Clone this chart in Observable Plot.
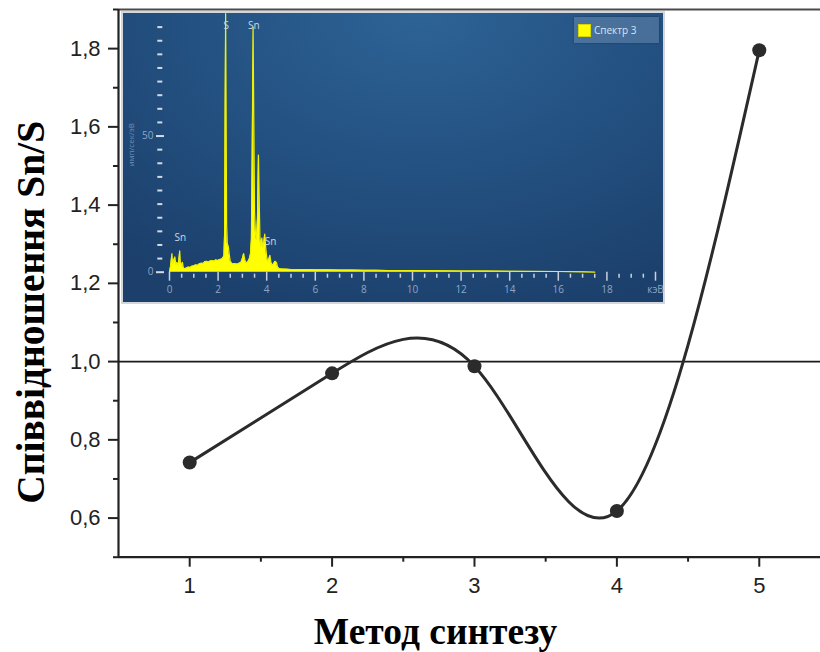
<!DOCTYPE html>
<html>
<head>
<meta charset="utf-8">
<script src="https://cdn.jsdelivr.net/npm/d3@7"></script>
<script src="https://cdn.jsdelivr.net/npm/@observablehq/plot@0.6"></script>
<style>
  html, body { margin: 0; padding: 0; background: #fff; overflow: hidden; }
  #wrap { position: relative; width: 820px; height: 652px; }
  #inset { position: absolute; left: 121px; top: 11px; width: 540px; height: 289px; border: 2px solid #d3d6da; }
  #inset svg { display: block; }
  #legend { position: absolute; left: 451px; top: 4px; width: 85px; height: 26px;
            background: rgba(150, 175, 205, 0.32); box-shadow: 0 0 2px rgba(0, 0, 0, 0.35);
            font: 10px "Open Sans", sans-serif; color: #dde4ee; }
  #legend .sw { position: absolute; left: 4px; top: 7px; width: 11px; height: 11px; background: #ffff00; border: 1px solid #d6d600; }
  #legend .lb { position: absolute; left: 20px; top: 0; line-height: 26px; }
</style>
</head>
<body>
<div id="wrap">
  <div id="main"></div>
  <div id="inset">
    <div id="legend"><div class="sw"></div><div class="lb"></div></div>
  </div>
</div>
<script>
// Sn/S ratio for each synthesis method
const methods = [1, 2, 3, 4, 5];
const ratios = [0.742, 0.970, 0.988, 0.618, 1.796];
const refLevel = 1.0;

const xTicks = [1, 2, 3, 4, 5];
const xMinor = [1.5, 2.5, 3.5, 4.5];
const yTicks = [0.6, 0.8, 1.0, 1.2, 1.4, 1.6, 1.8];
const yMinor = [0.5, 0.7, 0.9, 1.1, 1.3, 1.5, 1.7, 1.9];

const xTitle = "Метод синтезу";
const yTitle = "Співвідношення Sn/S";

// EDS spectrum (inset): energy, keV and intensity, counts/s/eV
const energyKeV = [0.00, 0.05, 0.10, 0.13, 0.18, 0.22, 0.26, 0.30, 0.34, 0.38, 0.42, 0.45, 0.50, 0.53, 0.57,
  0.62, 0.70, 0.78, 0.85, 0.92, 1.00, 1.08, 1.15, 1.22, 1.30, 1.38, 1.45, 1.52, 1.60, 1.68, 1.75, 1.82,
  1.90, 1.98, 2.05, 2.12, 2.18, 2.24, 2.27, 2.29, 2.31, 2.33, 2.35, 2.38, 2.42, 2.46, 2.50, 2.56, 2.62,
  2.70, 2.78, 2.86, 2.94, 3.00, 3.05, 3.10, 3.16, 3.22, 3.28, 3.33, 3.37, 3.40, 3.44, 3.47, 3.50, 3.54,
  3.58, 3.62, 3.66, 3.69, 3.72, 3.76, 3.80, 3.84, 3.88, 3.92, 3.96, 4.00, 4.04, 4.08, 4.13, 4.17, 4.22,
  4.28, 4.34, 4.40, 4.45, 4.52, 4.60, 4.80, 5.0, 5.5, 6.0, 6.5, 7.0, 7.5, 8.0, 8.5, 9.0, 9.5, 10, 11,
  12, 13, 14, 15, 16, 17, 17.5];
const countsPerEv = [0, 2.5, 6.8, 3.0, 4.5, 5.6, 2.8, 3.6, 2.5, 4.0, 7.8, 3.2, 2.6, 3.6, 1.6,
  1.3, 1.5, 1.9, 1.7, 2.2, 2.3, 2.7, 2.5, 3.0, 3.3, 3.2, 3.8, 4.0, 3.7, 4.1, 4.3, 4.0,
  4.5, 4.3, 4.6, 4.8, 5.0, 6.0, 15, 60, 95, 60, 18, 10.5, 9.5, 6.5, 4.0, 3.3, 3.0,
  3.2, 2.9, 3.3, 3.6, 5.0, 6.8, 4.5, 3.4, 3.7, 4.8, 6.5, 12, 40, 90, 55, 22, 14,
  12, 20, 43, 28, 13, 9.5, 12.5, 9, 11, 14, 9, 5.5, 4.0, 4.5, 6.2, 3.8, 2.6,
  3.0, 4.0, 3.6, 1.8, 1.3, 1.2, 1.1, 1.0, 1.0, 0.9, 0.9, 0.8, 0.8, 0.7, 0.7, 0.6, 0.6, 0.55, 0.5,
  0.45, 0.4, 0.35, 0.3, 0.25, 0.15, 0];

const peakNames = ["Sn", "S", "Sn", "Sn"];
const peakKeV = [0.45, 2.33, 3.47, 4.16];
const peakLabelY = [12.6, 90.6, 90.6, 11.0];

const insetXMajor = [0, 2, 4, 6, 8, 10, 12, 14, 16, 18, 20];
const insetXMinor = [0.5, 1, 1.5, 2.5, 3, 3.5, 4.5, 5, 5.5, 6.5, 7, 7.5, 8.5, 9, 9.5, 10.5, 11, 11.5,
  12.5, 13, 13.5, 14.5, 15, 15.5, 16.5, 17, 17.5, 18.5, 19, 19.5];
const insetYMajor = [0, 50];
const insetYMinor = [5, 10, 15, 20, 25, 30, 35, 40, 45, 55, 60, 65, 70, 75, 80, 85, 90];
const insetYLabel = "имп/сек/эВ";
const insetUnit = "кэВ";
const legendLabel = "Спектр 3";

const fmt = d => d.toFixed(1).replace(".", ",");
const rows = methods.map((m, i) => ({method: m, ratio: ratios[i]}));

const main = Plot.plot({
  width: 820,
  height: 652,
  marginLeft: 118,
  marginRight: 0,
  marginTop: 9,
  marginBottom: 95.3,
  x: {domain: [0.5, 5.43]},
  y: {domain: [0.5, 1.9]},
  style: {fontFamily: '"Liberation Sans", Arial, sans-serif', fontSize: "22px", color: "#222", background: "#fff"},
  marks: [
    Plot.axisX({ticks: xTicks, tickSize: 10, tickPadding: 10, strokeWidth: 2, tickFormat: d => String(d), label: null}),
    Plot.axisX({ticks: xMinor, tickSize: 5, strokeWidth: 2, tickFormat: () => "", label: null}),
    Plot.axisY({ticks: yTicks, tickSize: 10, tickPadding: 8, strokeWidth: 2, tickFormat: fmt, label: null}),
    Plot.axisY({ticks: yMinor, tickSize: 5, strokeWidth: 2, tickFormat: () => "", label: null}),
    Plot.ruleY([1.9], {stroke: "#4a4a4a", strokeWidth: 2}),
    Plot.ruleX([0.5], {stroke: "#222", strokeWidth: 2.2}),
    Plot.ruleY([0.5], {stroke: "#222", strokeWidth: 2.2}),
    Plot.ruleY([refLevel], {stroke: "#1a1a1a", strokeWidth: 1.6}),
    Plot.line(rows, {x: "method", y: "ratio", curve: "natural", stroke: "#2b2b2b", strokeWidth: 3}),
    Plot.dot(rows, {x: "method", y: "ratio", r: 7, fill: "#2b2b2b", stroke: "none"}),
    Plot.text([xTitle], {frameAnchor: "bottom", dx: -34, dy: 86.3, lineAnchor: "bottom", textAnchor: "middle",
      fontSize: 37.5, fontWeight: "bold", fontFamily: '"Liberation Serif", "Times New Roman", serif', fill: "#000"}),
    Plot.text([yTitle], {frameAnchor: "left", rotate: -90, dx: -75, dy: 29, lineAnchor: "bottom", textAnchor: "middle",
      fontSize: 39.5, fontWeight: "bold", fontFamily: '"Liberation Serif", "Times New Roman", serif', fill: "#000"})
  ]
});
document.getElementById("main").append(main);

// Inset: EDS spectrum
const spectrum = energyKeV.map((e, i) => ({e, c: countsPerEv[i]}));
const peaks = peakNames.map((t, i) => ({t, x: peakKeV[i], y: peakLabelY[i]}));

const inset = Plot.plot({
  width: 540,
  height: 289,
  marginLeft: 46,
  marginRight: 8,
  marginTop: 0,
  marginBottom: 30.3,
  x: {domain: [0, 20]},
  y: {domain: [0, 95]},
  style: {
    background: "radial-gradient(ellipse 85% 110% at 55% 0%, #2e6396 0%, #235181 50%, #1c3f6b 100%)",
    fontFamily: '"Open Sans", sans-serif', fontSize: "10px", color: "#8ea7c6", overflow: "visible"
  },
  marks: [
    Plot.axisX({ticks: insetXMajor, tickSize: 9, tickPadding: 5, stroke: "#c8d2de", strokeWidth: 1.5,
      tickFormat: d => d === 20 ? insetUnit : String(d), label: null}),
    Plot.axisX({ticks: insetXMinor, tickSize: 4, dy: 2, stroke: "#c8d2de", strokeWidth: 1.5, tickFormat: () => "", label: null}),
    Plot.axisY({ticks: insetYMajor, tickSize: 8, dx: -5, tickPadding: 3, stroke: "#d3dbe5", strokeWidth: 2, label: null}),
    Plot.axisY({ticks: insetYMinor, tickSize: 5, dx: -6.7, stroke: "#d3dbe5", strokeWidth: 2, tickFormat: () => "", label: null}),
    Plot.text([insetYLabel], {frameAnchor: "left", rotate: -90, dx: -36, dy: 2, lineAnchor: "bottom", textAnchor: "middle",
      fontSize: 8, fill: "#6e8fb6"}),
    Plot.areaY(spectrum, {x: "e", y: "c", fill: "#ffff00"}),
    Plot.lineY(spectrum, {x: "e", y: "c", stroke: "#f2f200", strokeWidth: 1.2}),
    Plot.text(peaks, {x: "x", y: "y", text: "t", fill: "#cdd6e2", fontSize: 10})
  ]
});
document.getElementById("inset").prepend(inset);
document.querySelector("#legend .lb").textContent = legendLabel;
</script>
</body>
</html>
